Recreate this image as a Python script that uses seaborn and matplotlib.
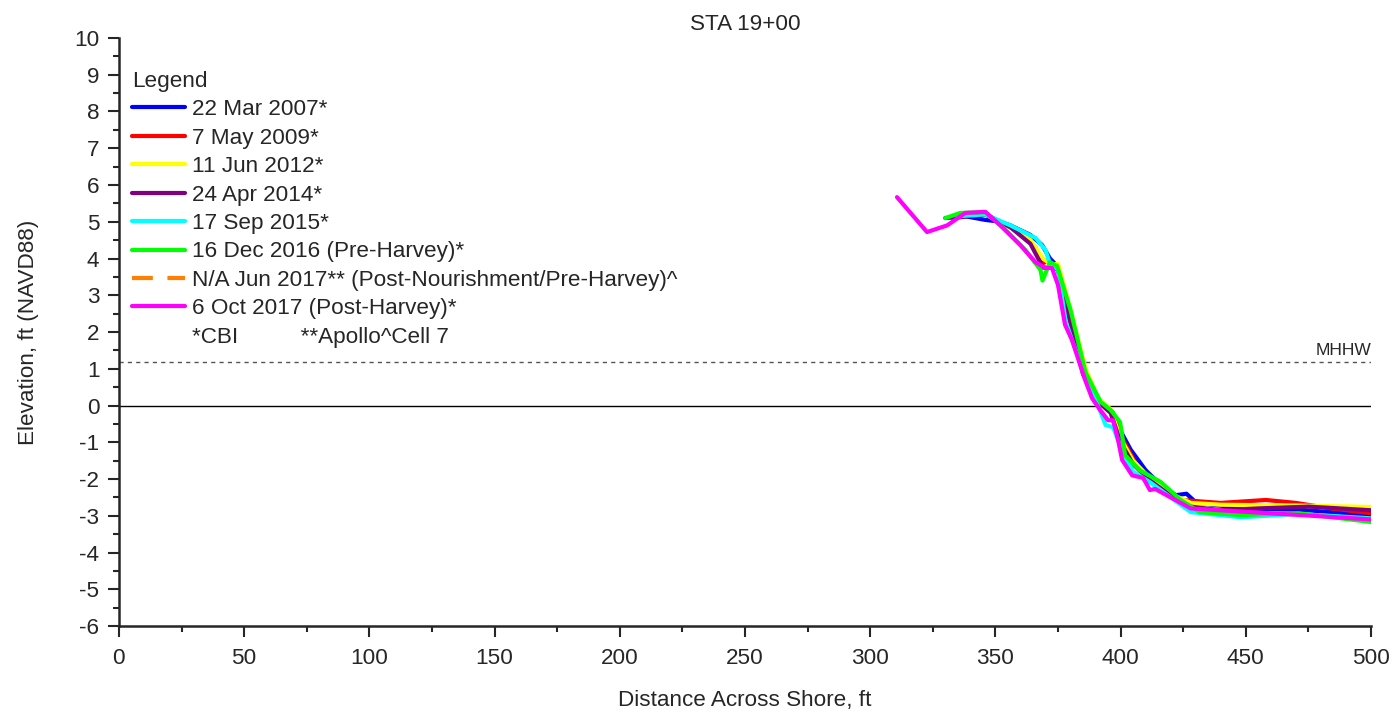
import numpy as np
import pandas as pd
import matplotlib
matplotlib.use("Agg")
import matplotlib.pyplot as plt
from matplotlib.lines import Line2D
from matplotlib.ticker import MultipleLocator
import seaborn as sns

# ---------------- data ----------------
labels = ["22 Mar 2007*", "7 May 2009*", "11 Jun 2012*", "24 Apr 2014*",
          "17 Sep 2015*", "16 Dec 2016 (Pre-Harvey)*",
          "N/A Jun 2017** (Post-Nourishment/Pre-Harvey)^",
          "6 Oct 2017 (Post-Harvey)*"]
colors = ["#0000FF", "#FF0000", "#FFFF00", "#800080", "#00FFFF", "#00FF00",
          "#FF8000", "#FF00FF"]

x_2007 = [330, 338, 346, 352, 356, 364, 368.6, 371.8, 374.6, 379, 385.8, 391, 396, 399.8,
          404, 410, 416, 422, 426.3, 430, 436.4, 450, 471.7, 500]
y_2007 = [5.1, 5.15, 5.05, 5.0, 4.9, 4.64, 4.37, 4.0, 3.8, 2.6, 0.97, 0.15, -0.18, -0.67,
          -1.2, -1.76, -2.16, -2.44, -2.4, -2.63, -2.7, -2.8, -2.84, -2.98]

x_2009 = [335, 346, 356, 362, 366, 368.5, 371, 373, 375, 380, 386, 391, 394, 397, 401,
          407.5, 416, 424, 440, 458, 470, 484, 500]
y_2009 = [5.15, 5.2, 4.85, 4.6, 4.3, 3.85, 3.95, 3.85, 3.7, 2.5, 0.9, 0.2, 0.0, -0.2, -0.94,
          -1.76, -2.16, -2.57, -2.65, -2.57, -2.65, -2.8, -2.93]

x_2012 = [335, 346, 356, 364, 369, 372, 375, 380, 386, 391, 396, 400, 405, 412, 420, 428,
          440, 470, 500]
y_2012 = [5.15, 5.2, 4.85, 4.5, 4.0, 3.85, 3.85, 2.6, 1.0, 0.2, -0.1, -0.9, -1.5, -2.0,
          -2.4, -2.65, -2.7, -2.72, -2.76]

x_2014 = [333, 346, 356, 364, 369, 372, 375, 379, 385, 391, 396, 400, 405, 412, 420, 428,
          440, 455, 475, 500]
y_2014 = [5.1, 5.2, 4.85, 4.4, 3.75, 3.75, 3.7, 2.5, 0.85, 0.1, -0.2, -1.0, -1.6, -2.05,
          -2.45, -2.75, -2.85, -2.8, -2.75, -2.85]

x_2015 = [335, 346, 356, 366, 370, 372, 375, 378, 381, 386, 391, 394, 397, 401, 405, 412,
          420, 428, 448, 471, 500]
y_2015 = [5.15, 5.2, 4.9, 4.56, 4.23, 3.82, 3.7, 2.3, 1.7, 0.8, 0.0, -0.53, -0.59, -1.3,
          -1.8, -2.1, -2.5, -2.9, -3.04, -2.95, -3.07]

x_2016 = [330, 336, 346, 354, 362, 368, 368.8, 371.8, 374.6, 380, 386, 392, 396, 399.8,
          401.8, 407.6, 416, 424, 431.6, 448, 471, 488, 500]
y_2016 = [5.1, 5.24, 5.26, 4.78, 4.23, 3.69, 3.4, 3.9, 3.8, 2.6, 0.9, 0.1, -0.12, -0.45,
          -1.35, -1.76, -2.08, -2.57, -2.9, -2.98, -2.93, -3.07, -3.17]

x_2017 = [310.7, 322.7, 330.7, 338, 346, 352, 360, 366, 370, 372.6, 375, 377.8, 380.6,
          385.8, 388.6, 391.8, 395, 397, 399, 400.6, 404.6, 409, 411.7, 413.8, 424, 428,
          451.7, 471.6, 500]
y_2017 = [5.67, 4.72, 4.9, 5.24, 5.27, 4.9, 4.36, 3.9, 3.74, 3.74, 3.28, 2.2, 1.78, 0.7,
          0.2, -0.12, -0.4, -0.4, -0.94, -1.48, -1.9, -1.97, -2.3, -2.27, -2.65, -2.8,
          -2.9, -2.98, -3.1]

mhhw = 1.18
x_ticks = [0, 50, 100, 150, 200, 250, 300, 350, 400, 450, 500]
y_ticks = list(range(-6, 11))

series = [(labels[0], x_2007, y_2007), (labels[1], x_2009, y_2009),
          (labels[2], x_2012, y_2012), (labels[3], x_2014, y_2014),
          (labels[4], x_2015, y_2015), (labels[5], x_2016, y_2016),
          (labels[7], x_2017, y_2017)]

rows = []
for name, xs, ys in series:
    for i, (xv, yv) in enumerate(zip(xs, ys)):
        rows.append({"survey": name, "dist": xv, "elev": yv, "order": i})
df = pd.DataFrame(rows)

# ---------------- plot ----------------
sns.set_style("ticks")
plt.rcParams["font.family"] = ["Liberation Sans", "DejaVu Sans"]
plt.rcParams["axes.unicode_minus"] = False

FS = 16.2

fig = plt.figure(figsize=(13.99, 7.14), dpi=100)
ax = fig.add_axes([0.085, 0.1232, 0.895, 0.8236])

ax.plot([0, 500], [mhhw, mhhw], color="#555555", lw=1.0, ls=(0, (3, 3)), zorder=1)
ax.axhline(0, color="black", lw=1.0, zorder=1)
ax.text(500, mhhw + 0.12, "MHHW", ha="right", va="bottom", fontsize=12.5)

hue_order = [s[0] for s in series]
pal = {labels[i]: colors[i] for i in range(len(labels))}
sns.lineplot(data=df, x="dist", y="elev", hue="survey", hue_order=hue_order,
             palette=pal, sort=False, estimator=None, units="survey",
             lw=3.0, legend=False, ax=ax, zorder=3)

ax.set_xlim(0, 500)
ax.set_ylim(-6, 10)
ax.set_xticks(x_ticks)
ax.set_yticks(y_ticks)
ax.xaxis.set_minor_locator(MultipleLocator(25))
ax.yaxis.set_minor_locator(MultipleLocator(0.5))
ax.tick_params(axis="both", which="major", length=8, width=1.5, labelsize=FS,
               direction="out", pad=6)
ax.tick_params(axis="x", which="major", pad=8)
ax.tick_params(axis="both", which="minor", length=4, width=1.5, direction="out")
for sp in ["left", "bottom"]:
    ax.spines[sp].set_linewidth(1.8)
sns.despine(ax=ax)

ax.set_title("STA 19+00", fontsize=FS, pad=6)
ax.set_xlabel("Distance Across Shore, ft", fontsize=FS, labelpad=15)
ax.set_ylabel("Elevation, ft (NAVD88)", fontsize=FS, labelpad=25)

handles = []
for i, lab in enumerate(labels):
    if i == 6:
        handles.append(Line2D([], [], color=colors[i], lw=3.0, ls=(0, (5, 3.5))))
    else:
        handles.append(Line2D([], [], color=colors[i], lw=3.0))
handles.append(Line2D([], [], color="none", lw=0))
leg_labels = labels + ["*CBI          **Apollo^Cell 7"]
leg = ax.legend(handles, leg_labels, title="Legend", loc="upper left",
                bbox_to_anchor=(0.0105, 0.944), frameon=False, fontsize=FS,
                title_fontsize=FS, handlelength=2.35, handletextpad=0.3,
                labelspacing=0.33, borderpad=0, borderaxespad=0)
leg._legend_box.align = "left"

fig.savefig("out.png", dpi=100)
